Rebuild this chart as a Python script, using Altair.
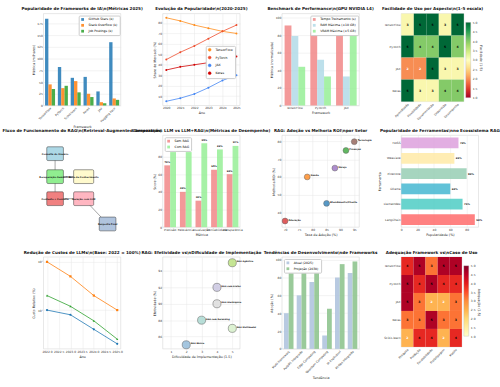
import altair as alt
import pandas as pd

FONT = "DejaVu Sans"
TS, AS, LS = 4.2, 3.4, 3.0
W, H = 79, 94

# ---------------- data ----------------
fw1 = ["TensorFlow", "PyTorch", "Scikit-learn", "Keras", "JAX", "Hugging Face"]
gh1 = [185, 82, 59, 61, 30, 135]
so1 = [45, 37, 52, 25, 7, 15]
jp1 = [35, 42, 28, 18, 5, 12]
s1 = ["GitHub Stars (k)", "Stack Overflow (k)", "Job Postings (k)"]
col1 = ["#1f77b4", "#ff7f0e", "#2ca02c"]

years2 = [2020, 2021, 2022, 2023, 2024, 2025]
tf2 = [85, 82, 78, 75, 72, 70]
pt2 = [45, 52, 58, 65, 72, 78]
jax2 = [5, 8, 12, 18, 25, 30]
ke2 = [35, 38, 40, 42, 45, 48]
names2 = ["TensorFlow", "PyTorch", "JAX", "Keras"]
col2 = ["#ff8c1a", "#ee4c2c", "#4285f4", "#d00000"]

fw3 = ["TensorFlow", "PyTorch", "JAX"]
t3 = [91, 83, 99]
ram3 = [79, 52, 33]
vram3 = [44, 33, 85]
s3 = ["Tempo Treinamento (s)", "RAM Máxima (×10 GB)", "VRAM Máxima (×5 GB)"]
col3 = ["#f08080", "#add8e6", "#90ee90"]

fw4 = ["TensorFlow", "PyTorch", "JAX", "Keras"]
asp4 = ["Aprendizado", "Flexibilidade", "Documentação", "Depuração", "Desempenho"]
m4 = [[3, 5, 5, 3, 5], [5, 4, 4, 5, 4], [2, 2, 5, 3, 3], [5, 3, 3, 4, 4]]

nodes5 = ["Consulta do Usuário", "Recuperação Semântica", "Base de Conhecimento",
          "Contexto + Consulta", "Geração com LLM", "Resposta Final"]
nx5 = [1.5, 1.5, 5.2, 1.5, 5.2, 8.3]
ny5 = [8.0, 5.5, 5.5, 3.1, 3.1, 0.35]
hw5 = [1.08, 1.08, 1.3, 1.08, 1.3, 1.08]
hh5 = [0.75, 0.75, 0.75, 0.75, 0.75, 0.75]
fill5 = ["#add8e6", "#90ee90", "#fffacd", "#f08080", "#ffb6c1", "#b0c4de"]
edge_from5 = [0, 1, 1, 3, 4]
edge_to5 = [1, 2, 3, 4, 5]

met6 = ["Precisão", "Relevância", "Atualização", "Confiabilidade", "Transparência"]
sem6 = [70, 40, 30, 65, 60]
com6 = [85, 85, 95, 88, 92]
s6 = ["Sem RAG", "Com RAG"]
col6 = ["#f08080", "#90ee90"]

sec7 = ["Atendimento/Cliente", "Saúde", "Finanças", "Educação", "Varejo", "Tecnologia"]
ad7 = [85, 78, 92, 70, 88, 95]
roi7 = [45, 60, 75, 35, 65, 80]
col7 = ["#1f77b4", "#ff7f0e", "#2ca02c", "#d62728", "#9467bd", "#8c564b"]

tools8 = ["LangChain", "LlamaIndex", "Ollama", "Pinecone", "Weaviate", "FAISS"]
pop8 = [90, 75, 60, 80, 65, 70]
col8 = ["#ff6b6b", "#4ecdc4", "#45b7d1", "#96ceb4", "#ffeaa7", "#dda0dd"]

years9 = [2022, 2023, 2024, 2025]
gpt3_9 = [10, 8, 4, 2]
gpt4_9 = [100, 50, 20, 10]
local9 = [20, 12, 6, 2.5]
s9 = ["GPT-3 API", "GPT-4 API", "LLMs Locais"]
col9 = ["#1f77b4", "#ff7f0e", "#2ca02c"]

tech10 = ["RAG Básico", "RAG com Reranking", "RAG Multimodal", "RAG Hierárquico", "RAG com Grafos", "RAG Agêntico"]
dif10 = [2, 3, 5, 4, 4, 5]
ef10 = [85, 88, 87, 90, 92, 95]
col10 = ["#8fb8d8", "#a8d8d0", "#d5efc8", "#dcdcdc", "#c8c4e0", "#b8e07a"]

tend11 = ["Multi-framework", "AutoML Integrado", "Edge Computing", "Quantum Computing", "IA Explicável", "MLOps Integrado"]
atual11 = [40, 60, 75, 15, 80, 85]
proj11 = [85, 88, 88, 45, 95, 98]
s11 = ["Atual (2025)", "Projeção (2030)"]
col11 = ["#b0c4de", "#8fc48f"]

fw12 = ["TensorFlow", "PyTorch", "JAX", "Keras", "Scikit-learn"]
uc12 = ["Pesquisa", "Produção", "Escalabilidade", "Prototipagem", "Mobile"]
m12 = [[4, 5, 3, 5, 5], [5, 4, 5, 4, 4], [5, 3, 2, 2, 3], [3, 3, 5, 3, 3], [2, 4, 4, 2, 4]]

RDYLGN = ["#a50026", "#d73027", "#f46d43", "#fdae61", "#fee08b", "#ffffbf",
          "#d9ef8b", "#a6d96a", "#66bd63", "#1a9850", "#006837"]
YLORRD = ["#ffffcc", "#ffeda0", "#fed976", "#feb24c", "#fd8d3c", "#fc4e2a",
          "#e31a1c", "#bd0026", "#800026"]


def ttl(text):
    return alt.TitleParams(text, font=FONT, fontSize=TS, fontWeight="bold",
                           color="#111111", offset=2, anchor="middle")


def leg(orient="top-right", **kw):
    d = dict(title=None, orient=orient, fillColor="white", strokeColor="#cccccc",
             padding=2, cornerRadius=1, labelFontSize=3.2, labelFont=FONT,
             symbolSize=8, rowPadding=2, offset=1.5, labelLimit=200,
             symbolStrokeWidth=0.6)
    d.update(kw)
    return alt.Legend(**d)


def long(cats, catname, series, seriesname, values_list, valname):
    rows = []
    for s, vals in zip(series, values_list):
        for c, v in zip(cats, vals):
            rows.append({catname: c, seriesname: s, valname: v})
    return pd.DataFrame(rows)


# ---------------- panel 1 ----------------
df1 = long(fw1, "Framework", s1, "Série", [gh1, so1, jp1], "Valor")
p1 = alt.Chart(df1, title=ttl("Popularidade de Frameworks de IA\\n(Métricas 2025)")).mark_bar(opacity=0.85).encode(
    x=alt.X("Framework:N", sort=fw1, title="Framework",
            scale=alt.Scale(paddingInner=0.22, paddingOuter=0.12),
            axis=alt.Axis(labelAngle=-45, bandPosition=0.5)),
    xOffset=alt.XOffset("Série:N", sort=s1),
    y=alt.Y("Valor:Q", title="Métrica (milhares)", scale=alt.Scale(domain=[0, 196], nice=False),
            axis=alt.Axis(values=[0, 25, 50, 75, 100, 125, 150, 175])),
    color=alt.Color("Série:N", scale=alt.Scale(domain=s1, range=col1), legend=leg(symbolType="square")),
).properties(width=W, height=H)

# ---------------- panel 2 ----------------
df2 = long(years2, "Ano", names2, "Framework", [tf2, pt2, jax2, ke2], "Share")
p2 = alt.Chart(df2, title=ttl("Evolução da Popularidade\\n(2020-2025)")).mark_line(
    strokeWidth=0.8, point=alt.OverlayMarkDef(size=4, filled=True)).encode(
    x=alt.X("Ano:Q", title="Ano", scale=alt.Scale(domain=[2019.75, 2025.25], nice=False, zero=False),
            axis=alt.Axis(values=years2, format="d")),
    y=alt.Y("Share:Q", title="Share de Mercado (%)", scale=alt.Scale(domain=[1, 89], nice=False),
            axis=alt.Axis(values=[10, 20, 30, 40, 50, 60, 70, 80])),
    color=alt.Color("Framework:N", scale=alt.Scale(domain=names2, range=col2),
                    legend=leg(orient="none", legendX=44, legendY=33, symbolType="circle")),
).properties(width=W, height=H)

# ---------------- panel 3 ----------------
df3 = long(fw3, "Framework", s3, "Métrica", [t3, ram3, vram3], "Valor")
p3 = alt.Chart(df3, title=ttl("Benchmark de Performance\\n(GPU NVIDIA L4)")).mark_bar(opacity=0.8).encode(
    x=alt.X("Framework:N", sort=fw3, title="Framework",
            scale=alt.Scale(paddingInner=0.2, paddingOuter=0.1),
            axis=alt.Axis(labelAngle=0, bandPosition=0.5)),
    xOffset=alt.XOffset("Métrica:N", sort=s3),
    y=alt.Y("Valor:Q", title="Métrica (normalizada)", scale=alt.Scale(domain=[0, 104.5], nice=False),
            axis=alt.Axis(values=[0, 20, 40, 60, 80, 100])),
    color=alt.Color("Métrica:N", scale=alt.Scale(domain=s3, range=col3), legend=leg(symbolType="square")),
).properties(width=W, height=H)


# ---------------- heatmap helper ----------------
def heatmap(mat, rows_, cols_, rowname, colname, scheme, stops_colors, cb_title, w, h, dom, ttl_text):
    recs = []
    for i, r in enumerate(rows_):
        for j, c in enumerate(cols_):
            recs.append({rowname: r, colname: c, "Nota": mat[i][j]})
    df = pd.DataFrame(recs)
    base = alt.Chart(df).encode(
        x=alt.X(f"{colname}:N", sort=cols_, title=None, axis=alt.Axis(labelAngle=-45, grid=False)),
        y=alt.Y(f"{rowname}:N", sort=rows_, title=None, axis=alt.Axis(grid=False)),
    )
    rect = base.mark_rect().encode(
        color=alt.Color("Nota:Q", scale=alt.Scale(scheme=scheme, domain=[1, 5]), legend=None))
    text = base.mark_text(fontSize=3.2, fontWeight="bold").encode(
        text="Nota:Q",
        color=alt.condition("datum.Nota <= 2", alt.value("white"), alt.value("black")))
    stops = [alt.GradientStop(color=c, offset=i / (len(stops_colors) - 1)) for i, c in enumerate(stops_colors)]
    cbdf = pd.DataFrame({"lo": [1], "hi": [5]})
    x0 = w + 2
    x1 = w + 7
    cb = alt.Chart(cbdf).mark_rect(
        color=alt.LinearGradient(gradient="linear", stops=stops, x1=0, x2=0, y1=1, y2=0),
        stroke="#aaaaaa", strokeWidth=0.3).encode(
        x=alt.value(x0), x2=alt.value(x1),
        y=alt.Y("lo:Q", scale=alt.Scale(domain=dom, nice=False, zero=False),
                axis=alt.Axis(orient="right", values=[1, 1.5, 2, 2.5, 3, 3.5, 4, 4.5, 5], format=".1f",
                              title=cb_title, grid=False, offset=x1 - w + 0.5, titlePadding=2)),
        y2="hi:Q")
    return alt.layer(alt.layer(rect, text), cb).resolve_scale(y="independent").properties(
        width=w, height=h, title=ttl(ttl_text))


p4 = heatmap(m4, fw4, asp4, "Framework", "Aspecto", "redyellowgreen", RDYLGN, "Facilidade (1-5)",
             64, 90, [0.79, 5.47], "Facilidade de Uso por Aspecto\\n(1-5 escala)")

# ---------------- panel 5 (diagram) ----------------
df5 = pd.DataFrame({
    "nome": nodes5, "x": nx5, "y": ny5,
    "x0": [a - b for a, b in zip(nx5, hw5)], "x1": [a + b for a, b in zip(nx5, hw5)],
    "y0": [a - b for a, b in zip(ny5, hh5)], "y1": [a + b for a, b in zip(ny5, hh5)],
    "fill": fill5,
})
e5 = pd.DataFrame({
    "x": [nx5[i] for i in edge_from5], "y": [ny5[i] for i in edge_from5],
    "x2": [nx5[i] for i in edge_to5], "y2": [ny5[i] for i in edge_to5],
})
sx5 = alt.Scale(domain=[0, 10], nice=False, zero=False)
sy5 = alt.Scale(domain=[0, 10], nice=False, zero=False)
edges = alt.Chart(e5).mark_rule(color="#666666", strokeWidth=0.6).encode(
    x=alt.X("x:Q", scale=sx5, axis=None), y=alt.Y("y:Q", scale=sy5, axis=None),
    x2="x2:Q", y2="y2:Q")
boxes = alt.Chart(df5).mark_rect(stroke="#333333", strokeWidth=0.5, cornerRadius=1.2).encode(
    x=alt.X("x0:Q", scale=sx5, axis=None), x2="x1:Q",
    y=alt.Y("y0:Q", scale=sy5, axis=None), y2="y1:Q",
    color=alt.Color("fill:N", scale=None))
labels5 = alt.Chart(df5).mark_text(fontSize=2.4, fontWeight="bold", color="#111111").encode(
    x=alt.X("x:Q", scale=sx5, axis=None), y=alt.Y("y:Q", scale=sy5, axis=None), text="nome:N")
p5 = alt.layer(edges, boxes, labels5).properties(
    width=W, height=H, title=ttl("Fluxo de Funcionamento do RAG\\n(Retrieval-Augmented Generation)"),
    view=alt.ViewBackground(strokeOpacity=0))

# ---------------- panel 6 ----------------
df6 = long(met6, "Métrica", s6, "Tipo", [sem6, com6], "Score")
df6["Rótulo"] = [f"{v}%" for v in df6["Score"]]
b6 = alt.Chart(df6).encode(
    x=alt.X("Métrica:N", sort=met6, title="Métrica",
            scale=alt.Scale(paddingInner=0.25, paddingOuter=0.1),
            axis=alt.Axis(labelAngle=0, bandPosition=0.5)),
    xOffset=alt.XOffset("Tipo:N", sort=s6),
    y=alt.Y("Score:Q", title="Score (%)", scale=alt.Scale(domain=[0, 104], nice=False),
            axis=alt.Axis(values=[0, 20, 40, 60, 80])),
)
p6 = alt.layer(
    b6.mark_bar(opacity=0.8).encode(
        color=alt.Color("Tipo:N", scale=alt.Scale(domain=s6, range=col6),
                        legend=leg(orient="top-left", symbolType="square"))),
    b6.mark_text(dy=-1.5, baseline="bottom", fontSize=2.4, fontWeight="bold", color="#111111").encode(text="Rótulo:N"),
).properties(width=W, height=H, title=ttl("Comparação: LLM vs LLM+RAG\\n(Métricas de Desempenho)"))

# ---------------- panel 7 ----------------
df7 = pd.DataFrame({"Setor": sec7, "Adoção": ad7, "ROI": roi7})
sx7 = alt.Scale(domain=[68.9, 96.8], nice=False, zero=False)
sy7 = alt.Scale(domain=[31.5, 83.6], nice=False, zero=False)
b7 = alt.Chart(df7).encode(
    x=alt.X("Adoção:Q", scale=sx7, title="Taxa de Adoção (%)", axis=alt.Axis(values=[70, 75, 80, 85, 90, 95])),
    y=alt.Y("ROI:Q", scale=sy7, title="Melhoria ROI (%)", axis=alt.Axis(values=[40, 50, 60, 70, 80])),
)
p7 = alt.layer(
    b7.mark_circle(size=36, opacity=0.75, stroke="#333333", strokeWidth=0.5).encode(
        color=alt.Color("Setor:N", scale=alt.Scale(domain=sec7, range=col7), legend=None)),
    b7.mark_text(align="left", dx=3.5, dy=-1.5, fontSize=2.4, fontWeight="bold", color="#111111").encode(text="Setor:N"),
).properties(width=W, height=H, title=ttl("RAG: Adoção vs Melhoria ROI\\npor Setor"))

# ---------------- panel 8 ----------------
df8 = pd.DataFrame({"Ferramenta": tools8, "Pop": pop8, "cor": col8})
df8["Rótulo"] = [f"{v}%" for v in pop8]
b8 = alt.Chart(df8).encode(
    y=alt.Y("Ferramenta:N", sort=list(reversed(tools8)), title="Ferramenta",
            scale=alt.Scale(paddingInner=0.3, paddingOuter=0.15), axis=alt.Axis(bandPosition=0.5)),
    x=alt.X("Pop:Q", title="Popularidade (%)", scale=alt.Scale(domain=[0, 94.5], nice=False),
            axis=alt.Axis(values=[0, 20, 40, 60, 80])),
)
p8 = alt.layer(
    b8.mark_bar(opacity=0.85).encode(color=alt.Color("cor:N", scale=None)),
    b8.mark_text(align="left", dx=1.5, fontSize=2.5, fontWeight="bold", color="#111111").encode(text="Rótulo:N"),
).properties(width=W, height=H, title=ttl("Popularidade de Ferramentas\\nno Ecossistema RAG"))

# ---------------- panel 9 ----------------
df9 = long(years9, "Ano", s9, "Modelo", [gpt3_9, gpt4_9, local9], "Custo")
b9 = alt.Chart(df9).encode(
    x=alt.X("Ano:Q", title="Ano", scale=alt.Scale(domain=[2021.85, 2025.15], nice=False, zero=False),
            axis=alt.Axis(values=[2022, 2022.5, 2023, 2023.5, 2024, 2024.5, 2025], format=".1f", labelOverlap=False)),
    y=alt.Y("Custo:Q", title="Custo Relativo (%)",
            scale=alt.Scale(type="log", domain=[1.57, 126], nice=False),
            axis=alt.Axis(values=[10, 100], labelExpr="datum.value == 10 ? '10¹' : '10²'")),
    color=alt.Color("Modelo:N", scale=alt.Scale(domain=s9, range=col9), legend=None),
)
p9 = alt.layer(
    b9.mark_line(strokeWidth=0.8),
    b9.mark_point(filled=True, size=5, opacity=1).encode(
        color=alt.Color("Modelo:N", scale=alt.Scale(domain=s9, range=col9), legend=leg()),
        shape=alt.Shape("Modelo:N", scale=alt.Scale(domain=s9, range=["circle", "square", "triangle-up"]), legend=leg())),
).properties(width=W, height=H, title=ttl("Redução de Custos de LLMs\\n(Base: 2022 = 100%)"))

# ---------------- panel 10 ----------------
df10 = pd.DataFrame({"Técnica": tech10, "Dif": dif10, "Ef": ef10, "cor": col10})
b10 = alt.Chart(df10).encode(
    x=alt.X("Dif:Q", title="Dificuldade de Implementação (1-5)",
            scale=alt.Scale(domain=[0.47, 5.5], nice=False, zero=False), axis=alt.Axis(values=[1, 2, 3, 4, 5])),
    y=alt.Y("Ef:Q", title="Efetividade (%)", scale=alt.Scale(domain=[84.5, 95.7], nice=False, zero=False),
            axis=alt.Axis(values=[86, 88, 90, 92, 94])),
)
p10 = alt.layer(
    b10.mark_circle(size=68, opacity=0.8, stroke="#333333", strokeWidth=0.5).encode(color=alt.Color("cor:N", scale=None)),
    b10.mark_text(align="left", dx=4.5, dy=-1.5, fontSize=2.2, fontWeight="bold", color="#111111").encode(text="Técnica:N"),
).properties(width=W, height=H, title=ttl("RAG: Efetividade vs\\nDificuldade de Implementação"))

# ---------------- panel 11 ----------------
df11 = long(tend11, "Tendência", s11, "Período", [atual11, proj11], "Adoção")
p11 = alt.Chart(df11, title=ttl("Tendências de Desenvolvimento\\nde Frameworks")).mark_bar(opacity=0.9).encode(
    x=alt.X("Tendência:N", sort=tend11, title="Tendência",
            scale=alt.Scale(paddingInner=0.25, paddingOuter=0.15),
            axis=alt.Axis(labelAngle=-45, bandPosition=0.5)),
    xOffset=alt.XOffset("Período:N", sort=s11),
    y=alt.Y("Adoção:Q", title="Adoção (%)", scale=alt.Scale(domain=[0, 103], nice=False),
            axis=alt.Axis(values=[0, 20, 40, 60, 80, 100])),
    color=alt.Color("Período:N", scale=alt.Scale(domain=s11, range=col11),
                    legend=leg(orient="top-left", symbolType="square")),
).properties(width=W, height=H)

# ---------------- panel 12 ----------------
p12 = heatmap(m12, fw12, uc12, "Framework", "Caso", "yelloworangered", YLORRD, "Adequação (1-5)",
              62, 92, [0.39, 5.5], "Adequação Framework vs\\nCaso de Uso")

chart = alt.concat(
    p1, p2, p3, p4, p5, p6, p7, p8, p9, p10, p11, p12,
    columns=4, spacing={"row": 30.5, "column": 43}, bounds="flush", align="all",
).resolve_scale(
    x="independent", y="independent", color="independent", shape="independent", xOffset="independent"
).resolve_legend(color="independent", shape="independent").properties(
    padding={"left": 1.5, "top": 2.5, "right": 0, "bottom": 0}, background="white"
).configure_view(stroke="#cfcfcf", strokeWidth=0.5).configure_axis(
    labelFont=FONT, titleFont=FONT, labelFontSize=LS, titleFontSize=AS, titleFontWeight="normal",
    labelColor="#333333", titleColor="#222222", ticks=False, domain=False,
    gridColor="#e6e6e6", gridWidth=0.5, labelPadding=1.2, titlePadding=1.5, labelFlush=False,
).configure_text(font=FONT).configure_title(font=FONT)

chart.save("out.html", embed_options={"renderer": "svg", "actions": False})
